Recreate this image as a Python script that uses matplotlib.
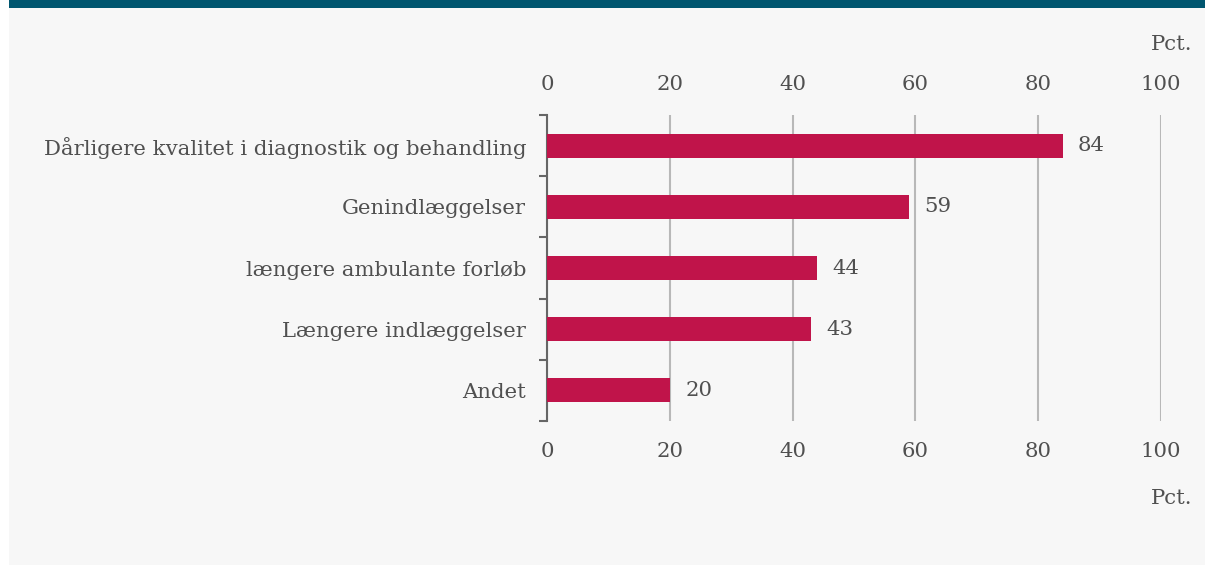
import matplotlib.pyplot as plt
from matplotlib.patches import Rectangle
from matplotlib.ticker import FixedLocator

# Data
categories = ['Dårligere kvalitet i diagnostik og behandling',
              'Genindlæggelser',
              'længere ambulante forløb',
              'Længere indlæggelser',
              'Andet']
values = [84, 59, 44, 43, 20]
xticks = [0, 20, 40, 60, 80, 100]

bar_color = '#c0144a'
text_color = '#505050'
fs = 15.3
plt.rcParams['font.family'] = ['DejaVu Serif']

fig = plt.figure(figsize=(12.05, 5.65), dpi=100, facecolor='white')

# grey panel and top band
fig.patches.append(Rectangle((9 / 1205, 0), 1, 557 / 565, transform=fig.transFigure,
                             facecolor='#f7f7f7', edgecolor='none', zorder=-2))
fig.patches.append(Rectangle((9 / 1205, 557 / 565), 1, 8 / 565, transform=fig.transFigure,
                             facecolor='#00566f', edgecolor='none', zorder=-1))

ax = fig.add_axes([547 / 1205, 1 - 421 / 565, 614 / 1205, 306 / 565])
ax.set_facecolor('none')

ypos = list(range(len(categories)))
ax.barh(ypos, values, height=0.39, color=bar_color, zorder=3)
for y, v in zip(ypos, values):
    ax.annotate(str(v), (v, y), xytext=(11, 0), textcoords='offset points',
                va='center', ha='left', fontsize=fs, color=text_color)

ax.set_xlim(0, 100)
ax.set_ylim(len(categories) - 0.5, -0.5)
ax.set_xticks(xticks)
ax.set_yticks(ypos)
ax.set_yticklabels(categories)
ax.yaxis.set_minor_locator(FixedLocator([i - 0.5 for i in range(len(categories) + 1)]))

for s in ['top', 'right', 'bottom']:
    ax.spines[s].set_visible(False)
ax.spines['left'].set_color('#666666')
ax.spines['left'].set_linewidth(1.5)

ax.tick_params(axis='y', which='major', length=0, pad=15, labelsize=fs, labelcolor=text_color)
ax.tick_params(axis='y', which='minor', length=6, width=1.5, color='#666666', direction='out')
ax.tick_params(axis='x', length=0, pad=15, labelsize=fs, labelcolor=text_color,
               top=False, labeltop=True, bottom=False, labelbottom=True)

ax.xaxis.grid(True, color='#b8b8b8', linewidth=1.5, zorder=0)
ax.set_axisbelow(True)

fig.text(1192 / 1205, 1 - 45 / 565, 'Pct.', ha='right', va='center', fontsize=fs, color=text_color)
fig.text(1192 / 1205, 1 - 498 / 565, 'Pct.', ha='right', va='center', fontsize=fs, color=text_color)

fig.savefig('out.png', dpi=100, facecolor=fig.get_facecolor())
